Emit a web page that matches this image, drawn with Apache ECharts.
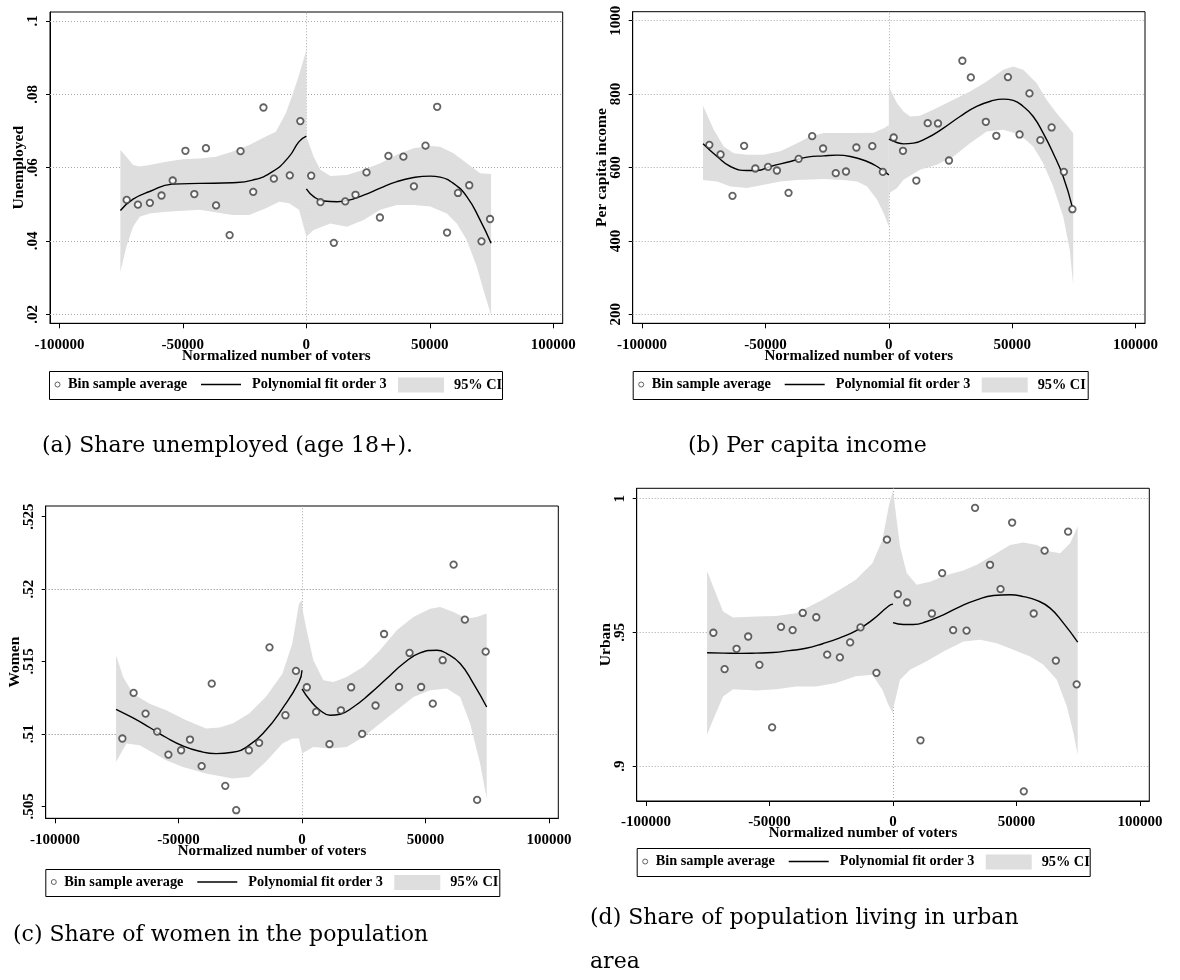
<!DOCTYPE html>
<html>
<head>
<meta charset="utf-8">
<script src="https://cdn.jsdelivr.net/npm/echarts@6/dist/echarts.min.js"></script>
<style>
html,body{margin:0;padding:0;background:#fff;}
#chart{width:1180px;height:980px;}
</style>
</head>
<body>
<div id="chart"></div>
<script>
// ---------------- DATA ----------------
const xTicks = [-100000, -50000, 0, 50000, 100000];
const xTickLabels = ['-100000', '-50000', '0', '50000', '100000'];
const cutoff = 0;

// bin centres (normalized number of voters), shared by all four panels
const binX = [-72750, -68200, -63360, -58650, -54110, -48960, -45360, -40650, -36550, -31070, -26650, -21510, -17370, -13160, -6710, -2440,
  1960, 5730, 11130, 15750, 19910, 24360, 29790, 33230, 39300, 43550, 48250, 52970, 56980, 61400, 65960, 70920, 74390];

// (a) Share unemployed
const unempYTicks = [0.02, 0.04, 0.06, 0.08, 0.1];
const unempYLabels = ['.02', '.04', '.06', '.08', '.1'];
const unempBins = [0.0512, 0.0499, 0.0504, 0.0524, 0.0565, 0.0646, 0.0528, 0.0653, 0.0497, 0.0416, 0.0645, 0.0534, 0.0764, 0.0570, 0.0579, 0.0727,
  0.0578, 0.0506, 0.0395, 0.0508, 0.0526, 0.0587, 0.0464, 0.0632, 0.0630, 0.0549, 0.0660, 0.0766, 0.0423, 0.0531, 0.0552, 0.0399, 0.0460];
const unempFitLeft = [[-75300, 0.0483], [-70160, 0.0514], [-63440, 0.0535], [-54300, 0.0555], [-43280, 0.0557], [-29840, 0.0559], [-21780, 0.0566], [-13710, 0.0589], [-7000, 0.0630], [-2960, 0.0671], [0, 0.0686]];
const unempFitRight = [[0, 0.0542], [2970, 0.0521], [7010, 0.0509], [12400, 0.0507], [16450, 0.0510], [23190, 0.0525], [29930, 0.0544], [36670, 0.0562], [43410, 0.0573], [50150, 0.0577], [54190, 0.0574], [59580, 0.0557], [64970, 0.0521], [70370, 0.0457], [74800, 0.0394]];
const unempCiLeftUpper = [[-75300, 0.0648], [-72850, 0.0630], [-70160, 0.0607], [-67480, 0.0603], [-63440, 0.0607], [-56720, 0.0616], [-50000, 0.0623], [-43280, 0.0625], [-36560, 0.0630], [-29840, 0.0644], [-23120, 0.0662], [-16400, 0.0685], [-12370, 0.0698], [-8340, 0.0748], [-5650, 0.0798], [-2960, 0.0853], [0, 0.0921]];
const unempCiLeftLower = [[-75300, 0.0316], [-72850, 0.0385], [-70160, 0.0439], [-67480, 0.0466], [-63440, 0.0475], [-56720, 0.0480], [-43280, 0.0485], [-29840, 0.0471], [-23120, 0.0471], [-16400, 0.0489], [-11030, 0.0507], [-6990, 0.0503], [-2960, 0.0485], [0, 0.0412]];
const unempCiRightUpper = [[0, 0.0685], [2970, 0.0630], [5660, 0.0594], [9710, 0.0577], [16450, 0.0580], [23190, 0.0594], [29930, 0.0612], [36670, 0.0635], [43410, 0.0653], [50150, 0.0659], [54190, 0.0657], [59580, 0.0639], [64970, 0.0612], [70370, 0.0585], [74800, 0.0583]];
const unempCiRightLower = [[0, 0.0412], [2970, 0.0430], [9710, 0.0448], [16450, 0.0439], [23190, 0.0457], [29930, 0.0485], [36670, 0.0498], [43410, 0.0498], [50150, 0.0494], [56890, 0.0475], [60930, 0.0448], [64970, 0.0403], [69020, 0.0330], [71710, 0.0266], [74800, 0.0198]];

// (b) Per capita income
const incomeYTicks = [200, 400, 600, 800, 1000];
const incomeYLabels = ['200', '400', '600', '800', '1000'];
const incomeBins = [661.8, 635.5, 522.7, 659, 597.3, 601.8, 591.8, 530.9, 623.6, 685.4, 651.8, 584.5, 589.1, 654.5, 658.2, 588.2,
  681.8, 645.5, 564.5, 720.9, 720, 619.1, 890.9, 845.4, 724.5, 686.4, 846.3, 690, 801.8, 674.5, 709.1, 588.2, 486.4];
const incomeFitLeft = [[-75300, 664.5], [-69600, 630], [-64200, 602.7], [-57440, 591.8], [-53390, 591.8], [-47990, 602.7], [-39880, 616.4], [-33130, 628.2], [-26370, 631.8], [-20970, 633.6], [-15560, 630], [-8810, 616.4], [-4760, 602.7], [0, 580]];
const incomeFitRight = [[0, 677], [3240, 668], [5930, 664.5], [9980, 666.4], [15370, 680], [22110, 707.3], [28850, 739], [35590, 766.4], [42330, 782.7], [46370, 786.4], [50420, 782.7], [54460, 766.4], [58500, 739], [62550, 693.6], [66590, 639], [70640, 575.5], [74300, 493.6]];
const incomeCiLeftUpper = [[-75300, 768], [-70950, 703], [-66900, 657], [-62850, 639], [-57440, 635], [-50690, 635], [-43930, 644], [-37180, 666], [-31780, 685], [-26370, 694], [-14210, 694], [-6110, 695], [-2050, 707], [0, 716]];
const incomeCiLeftLower = [[-75300, 566], [-69600, 562], [-64200, 548], [-57440, 544], [-50690, 553], [-43930, 562], [-37180, 566], [-26370, 569], [-18260, 566], [-12860, 562], [-8810, 548], [-4760, 512], [-2050, 475], [0, 439]];
const incomeCiRightUpper = [[0, 820.9], [3240, 775.4], [5930, 752.7], [8630, 739.1], [12670, 740.9], [19410, 761.8], [26150, 784.5], [32890, 807.3], [39630, 834.5], [46370, 866.3], [50420, 875.4], [54460, 866.3], [59850, 830], [63900, 784.5], [67940, 748.2], [71980, 716.4], [74700, 693.6]];
const incomeCiRightLower = [[0, 530], [3240, 543.6], [5930, 566.4], [12670, 593.6], [19410, 607.3], [26150, 630], [32890, 666.4], [39630, 698.2], [46370, 702.7], [53110, 689.1], [58500, 657.3], [62550, 611.8], [66590, 548.2], [70640, 466.4], [73330, 375.5], [74700, 280]];

// (c) Share of women
const womenYTicks = [0.505, 0.51, 0.515, 0.52, 0.525];
const womenYLabels = ['.505', '.51', '.515', '.52', '.525'];
const womenBins = [0.50968, 0.51283, 0.5114, 0.51016, 0.50857, 0.50887, 0.50961, 0.50777, 0.51347, 0.50641, 0.50473, 0.50887, 0.50938, 0.51598, 0.51129, 0.51435,
  0.51322, 0.51152, 0.50929, 0.51163, 0.51322, 0.51, 0.51196, 0.5169, 0.51324, 0.51559, 0.51324, 0.51209, 0.51509, 0.52169, 0.51789, 0.50544, 0.51568];
const womenFitLeft = [[-75300, 0.5117], [-68420, 0.5111], [-61700, 0.51044], [-54980, 0.50975], [-48260, 0.50917], [-41540, 0.5088], [-34820, 0.50864], [-28100, 0.50873], [-21380, 0.50922], [-14660, 0.51025], [-7940, 0.51175], [-1220, 0.51359], [0, 0.5144]];
const womenFitRight = [[0, 0.51311], [3240, 0.51232], [7300, 0.51163], [11350, 0.51129], [15400, 0.51136], [20800, 0.51186], [27560, 0.51278], [34320, 0.51382], [41070, 0.51486], [47830, 0.51559], [54590, 0.51578], [58630, 0.51555], [64040, 0.51486], [69440, 0.51347], [74800, 0.51186]];
const womenCiLeftUpper = [[-75300, 0.51543], [-72450, 0.51393], [-68420, 0.51278], [-61700, 0.51209], [-54980, 0.51163], [-46910, 0.51094], [-38850, 0.51037], [-33470, 0.51044], [-28100, 0.51071], [-21380, 0.5114], [-14660, 0.51255], [-7940, 0.51416], [-3910, 0.51624], [-1220, 0.519], [0, 0.51923]];
const womenCiLeftLower = [[-75300, 0.50807], [-71100, 0.50933], [-65730, 0.50922], [-54980, 0.50818], [-48260, 0.50772], [-38850, 0.50726], [-28100, 0.50692], [-21380, 0.50703], [-14660, 0.50807], [-7940, 0.50933], [-3910, 0.50968], [-1220, 0.50968], [0, 0.50864]];
const womenCiRightUpper = [[0, 0.51877], [1890, 0.51716], [4590, 0.51509], [8650, 0.5137], [12700, 0.51359], [18100, 0.51393], [24860, 0.51463], [31610, 0.51578], [38370, 0.51716], [45120, 0.51808], [51880, 0.51865], [55930, 0.51877], [61340, 0.51842], [66740, 0.51796], [70790, 0.51808], [74800, 0.51831]];
const womenCiRightLower = [[0, 0.50864], [4590, 0.5091], [11350, 0.50899], [18100, 0.5091], [24860, 0.50979], [31610, 0.51071], [38370, 0.51163], [45120, 0.51255], [51880, 0.51301], [58630, 0.51313], [64040, 0.51255], [68090, 0.51071], [72140, 0.50795], [74800, 0.50554]];

// (d) Share urban
const urbanYTicks = [0.9, 0.95, 1];
const urbanYLabels = ['.9', '.95', '1'];
const urbanBins = [0.9499, 0.9363, 0.9439, 0.9485, 0.9379, 0.9145, 0.9521, 0.9509, 0.9573, 0.9557, 0.9417, 0.9407, 0.9463, 0.9519, 0.9349, 0.9847,
  0.9643, 0.9612, 0.9097, 0.9571, 0.9722, 0.9509, 0.9507, 0.9966, 0.9753, 0.9662, 0.9911, 0.8906, 0.9571, 0.9806, 0.9395, 0.9877, 0.9306];
const urbanFitLeft = [[-75300, 0.9424], [-68820, 0.9423], [-62100, 0.9422], [-55380, 0.9423], [-48660, 0.9425], [-41940, 0.9432], [-35220, 0.9441], [-28500, 0.9458], [-21780, 0.9479], [-15060, 0.9506], [-8340, 0.9547], [-1620, 0.96], [0, 0.9606]];
const urbanFitRight = [[0, 0.9537], [4190, 0.953], [8240, 0.953], [13650, 0.9541], [20400, 0.9566], [27160, 0.9597], [33920, 0.9622], [40670, 0.9638], [47420, 0.9641], [52820, 0.9634], [58230, 0.962], [63630, 0.9591], [69040, 0.9535], [74800, 0.9464]];
const urbanCiLeftUpper = [[-75300, 0.9730], [-72850, 0.9672], [-68820, 0.9578], [-64790, 0.9556], [-55380, 0.9560], [-47320, 0.9562], [-39250, 0.9572], [-33880, 0.9597], [-28500, 0.9622], [-20440, 0.9666], [-15060, 0.9697], [-8340, 0.9759], [-4310, 0.9846], [-1620, 0.9977], [0, 1.003]];
const urbanCiLeftLower = [[-75300, 0.9118], [-72850, 0.9174], [-68820, 0.9261], [-64790, 0.9288], [-55380, 0.9283], [-47320, 0.9288], [-39250, 0.9298], [-31190, 0.9298], [-23120, 0.9311], [-15060, 0.9336], [-8340, 0.9342], [-4310, 0.9286], [-1620, 0.9224], [0, 0.9199]];
const urbanCiRightUpper = [[0, 1.003], [2840, 0.9821], [5540, 0.9722], [9590, 0.9678], [15000, 0.9690], [21750, 0.9715], [28510, 0.9732], [33920, 0.9753], [40670, 0.9790], [47420, 0.9827], [52820, 0.9836], [58230, 0.9827], [63630, 0.9803], [67690, 0.9796], [71740, 0.9834], [74800, 0.9896]];
const urbanCiRightLower = [[0, 0.9211], [2840, 0.9323], [6890, 0.9361], [13650, 0.9392], [20400, 0.9429], [28510, 0.9466], [35260, 0.9473], [42020, 0.9460], [48770, 0.9435], [55530, 0.9410], [60930, 0.9379], [66330, 0.9323], [70390, 0.9224], [73090, 0.9124], [74800, 0.9043]];

const xAxisTitle = 'Normalized number of voters';
const legendNames = ['Bin sample average', 'Polynomial fit order 3', '95% CI'];

// ---------------- LAYOUT / STYLE ----------------
const X_MIN = -103800, X_MAX = 103800;
const panels = [
  { yName: 'Unemployed', yTicks: unempYTicks, yLabels: unempYLabels, bins: unempBins, fitL: unempFitLeft, fitR: unempFitRight,
    ciLU: unempCiLeftUpper, ciLL: unempCiLeftLower, ciRU: unempCiRightUpper, ciRL: unempCiRightLower,
    grid: { left: 50, top: 12, width: 512.7, height: 311.3 }, yMin: 0.01755, yMax: 0.10245,
    box: [49, 371, 453, 28], caption: '(a) Share unemployed (age 18+).', capPos: { left: 42, top: 424 } },
  { yName: 'Per capita income', yTicks: incomeYTicks, yLabels: incomeYLabels, bins: incomeBins, fitL: incomeFitLeft, fitR: incomeFitRight,
    ciLU: incomeCiLeftUpper, ciLL: incomeCiLeftLower, ciRU: incomeCiRightUpper, ciRL: incomeCiRightLower,
    grid: { left: 632.7, top: 11.7, width: 512.3, height: 311.6 }, yMin: 175.5, yMax: 1024.5,
    box: [632.7, 371, 455, 28], caption: '(b) Per capita income', capPos: { left: 688, top: 424 } },
  { yName: 'Women', yTicks: womenYTicks, yLabels: womenYLabels, bins: womenBins, fitL: womenFitLeft, fitR: womenFitRight,
    ciLU: womenCiLeftUpper, ciLL: womenCiLeftLower, ciRU: womenCiRightUpper, ciRL: womenCiRightLower,
    grid: { left: 45.7, top: 506, width: 512.6, height: 312.3 }, yMin: 0.50417, yMax: 0.52574,
    box: [45.3, 869, 454, 27], caption: '(c) Share of women in the population', capPos: { left: 13, top: 913 } },
  { yName: 'Urban', yTicks: urbanYTicks, yLabels: urbanYLabels, bins: urbanBins, fitL: urbanFitLeft, fitR: urbanFitRight,
    ciLU: urbanCiLeftUpper, ciLL: urbanCiLeftLower, ciRU: urbanCiRightUpper, ciRL: urbanCiRightLower,
    grid: { left: 636.7, top: 488.3, width: 512.6, height: 312.7 }, yMin: 0.887, yMax: 1.0039,
    box: [636.7, 848, 453, 28], caption: '(d) Share of population living in urban\narea', capPos: { left: 590, top: 896 } }
];

const SERIF = 'Liberation Serif';
const axisFont = { fontFamily: SERIF, fontWeight: 'bold', fontSize: 15, color: '#000' };
const legendFont = { fontFamily: SERIF, fontWeight: 'bold', fontSize: 14.3, color: '#000' };
const BAND = '#dedede';
const MARK = '#3c3c3c';

const grid = [], xAxis = [], yAxis = [], series = [], legend = [], title = [], graphic = [];

panels.forEach((p, i) => {
  grid.push(Object.assign({ show: true, borderColor: '#000', borderWidth: 1, backgroundColor: 'transparent' }, p.grid));
  xAxis.push({
    gridIndex: i, type: 'value', min: X_MIN, max: X_MAX,
    name: xAxisTitle, nameLocation: 'middle', nameGap: 25, nameMoveOverlap: false,
    nameTextStyle: Object.assign({}, axisFont, { padding: [0, 60, 0, 0] }),
    axisLine: { show: true, onZero: false, lineStyle: { color: '#000', width: 1 } },
    axisTick: { show: true, customValues: xTicks, length: 5, lineStyle: { color: '#000' } },
    axisLabel: Object.assign({ customValues: xTicks, margin: 14,
      formatter: v => { const k = xTicks.indexOf(v); return k >= 0 ? xTickLabels[k] : ''; } }, axisFont),
    splitLine: { show: false }
  });
  yAxis.push({
    gridIndex: i, type: 'value', min: p.yMin, max: p.yMax,
    name: p.yName, nameLocation: 'middle', nameGap: 23, nameRotate: 90, nameMoveOverlap: false,
    nameTextStyle: Object.assign({}, axisFont, { fontSize: 15.5 }),
    axisLine: { show: true, onZero: false, lineStyle: { color: '#000', width: 1 } },
    axisTick: { show: true, customValues: p.yTicks, length: 4, lineStyle: { color: '#000' } },
    axisLabel: Object.assign({ customValues: p.yTicks, rotate: 90, margin: 9,
      formatter: v => { const k = p.yTicks.indexOf(v); return k >= 0 ? p.yLabels[k] : ''; } }, axisFont),
    splitLine: { show: false }
  });
  // dotted reference grid lines (behind the band)
  series.push({
    type: 'line', name: 'grid' + i, xAxisIndex: i, yAxisIndex: i, data: [], silent: true, z: 1,
    markLine: {
      silent: true, z: 1, symbol: ['none', 'none'], animation: false, label: { show: false },
      lineStyle: { color: '#a8a8a8', type: [1, 2], width: 1 },
      data: p.yTicks.map(v => ({ yAxis: v })).concat([{ xAxis: cutoff }])
    }
  });
  // 95% CI band
  series.push({
    type: 'custom', name: legendNames[2], xAxisIndex: i, yAxisIndex: i, z: 2, silent: true,
    itemStyle: { color: BAND },
    data: [[cutoff, p.yTicks[0]]],
    renderItem: (params, api) => {
      const poly = (up, lo) => up.map(q => api.coord(q)).concat(lo.slice().reverse().map(q => api.coord(q)));
      return {
        type: 'group', children: [
          { type: 'polygon', shape: { points: poly(p.ciLU, p.ciLL) }, style: { fill: BAND } },
          { type: 'polygon', shape: { points: poly(p.ciRU, p.ciRL) }, style: { fill: BAND } }
        ]
      };
    }
  });
  // polynomial fits
  [p.fitL, p.fitR].forEach(d => series.push({
    type: 'line', name: legendNames[1], xAxisIndex: i, yAxisIndex: i, data: d, smooth: true,
    symbol: 'none', silent: true, z: 3, itemStyle: { color: '#000' }, lineStyle: { color: '#000', width: 1.4 }
  }));
  // bin averages
  series.push({
    type: 'scatter', name: legendNames[0], xAxisIndex: i, yAxisIndex: i, z: 4, silent: true,
    data: binX.map((x, k) => [x, p.bins[k]]), symbol: 'circle', symbolSize: 6.5,
    itemStyle: { color: '#fff', borderColor: MARK, borderWidth: 1.8 }
  });
  // legend
  const [bl, bt, bw, bh] = p.box;
  const cy = bt + bh / 2;
  graphic.push({ type: 'rect', silent: true, shape: { x: bl + 0.5, y: bt + 0.5, width: bw, height: bh },
    style: { fill: null, stroke: '#000', lineWidth: 1 } });
  legend.push({ left: bl + 5.5, top: cy - 7.5, padding: 0, selectedMode: false, itemWidth: 5, itemHeight: 5,
    data: [{ name: legendNames[0], icon: 'circle', itemStyle: { color: '#fff', borderColor: MARK, borderWidth: 1 } }],
    textStyle: Object.assign({ padding: [0, 0, 0, 3] }, legendFont) });
  legend.push({ left: bl + 152, top: cy - 7.5, padding: 0, selectedMode: false, itemWidth: 40, itemHeight: 1.3,
    data: [{ name: legendNames[1], icon: 'rect', itemStyle: { color: '#000', borderWidth: 0 } }],
    textStyle: Object.assign({ padding: [0, 0, 0, 6] }, legendFont) });
  legend.push({ left: bl + 349, top: cy - 7.5, padding: 0, selectedMode: false, itemWidth: 46, itemHeight: 15,
    data: [{ name: legendNames[2], icon: 'rect', itemStyle: { color: BAND } }],
    textStyle: Object.assign({ padding: [0, 0, 0, 5] }, legendFont) });
  // caption
  title.push({ text: p.caption, left: p.capPos.left, top: p.capPos.top, padding: 0,
    textStyle: { fontFamily: 'DejaVu Serif', fontWeight: 'normal', fontSize: 22, color: '#000', lineHeight: 44 } });
});

const chart = echarts.init(document.getElementById('chart'), null, { renderer: 'canvas' });
chart.setOption({
  backgroundColor: '#fff', animation: false,
  title, grid, xAxis, yAxis, series, legend, graphic
});
</script>
</body>
</html>
